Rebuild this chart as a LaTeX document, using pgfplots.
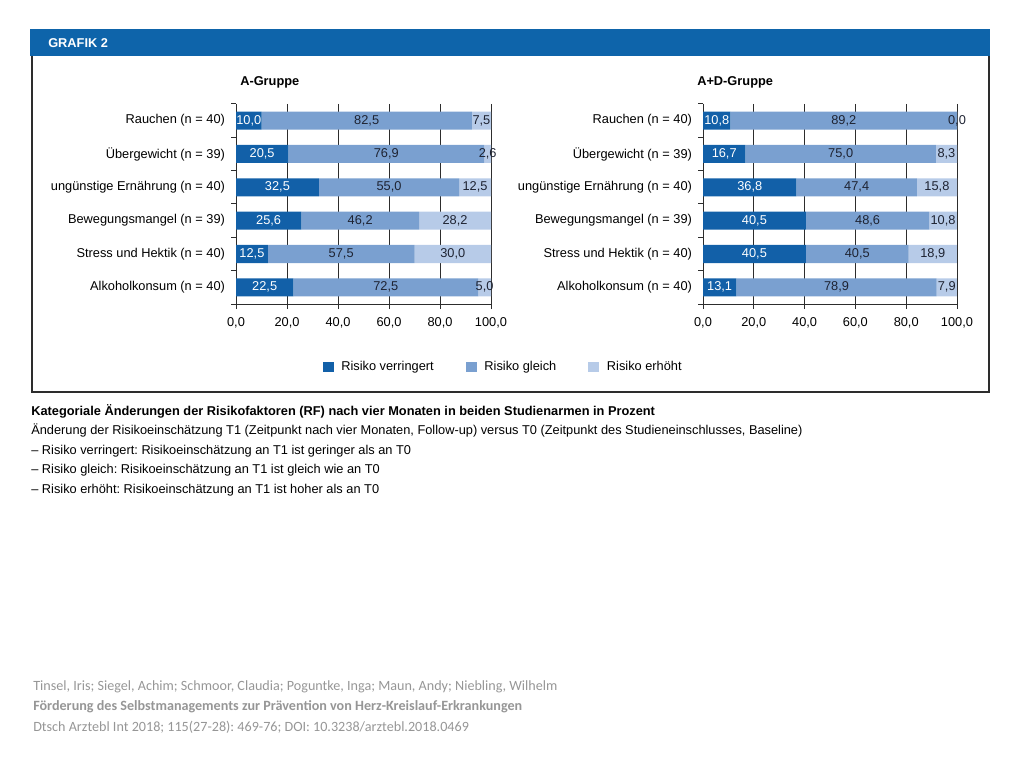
\documentclass[border=0pt]{standalone}
\usepackage{pgfplots}
\pgfplotsset{compat=1.18}
\usepackage{pgfplotstable}
\usepackage{fontspec}
\setmainfont{Liberation Sans}
\newfontfamily\footfont{Carlito}
\frenchspacing

\definecolor{dablue}{RGB}{14,100,170}
\definecolor{rdown}{RGB}{18,96,168}
\definecolor{rsame}{RGB}{122,160,208}
\definecolor{rup}{RGB}{183,203,232}
\definecolor{gridc}{RGB}{45,45,45}
\definecolor{labc}{RGB}{30,35,50}
\definecolor{footc}{RGB}{150,150,150}

\newcommand\lab{\fontsize{9.6}{11.6}\selectfont}

% v = Risiko verringert, g = gleich, e = erhoeht (Prozent)
\pgfplotstableread{
idx v g e
0 10.0 82.5 7.5
1 20.5 76.9 2.6
2 32.5 55.0 12.5
3 25.6 46.2 28.2
4 12.5 57.5 30.0
5 22.5 72.5 5.0
}\agruppe

% 0.001 statt 0.0, damit die Beschriftung "0,0" gesetzt wird
\pgfplotstableread{
idx v g e
0 10.8 89.2 0.001
1 16.7 75.0 8.3
2 36.8 47.4 15.8
3 40.5 48.6 10.8
4 40.5 40.5 18.9
5 13.1 78.9 7.9
}\adgruppe

\pgfplotsset{
  riskbar/.style={
    xbar stacked,
    scale only axis,
    height=150pt,
    xmin=0, xmax=100,
    ymin=-0.5, ymax=5.5,
    y dir=reverse,
    bar width=13.5pt,
    clip=false,
    axis x line*=bottom,
    axis y line*=left,
    axis line style={gridc, line width=0.75pt},
    tick align=outside,
    major tick length=3.75pt,
    tick style={gridc, line width=0.75pt},
    xtick={0,20,...,100},
    xmajorgrids,
    major grid style={gridc, line width=0.75pt},
    ytick={-0.5,0.5,...,5.5},
    yticklabels={,,,,,,,},
    extra y ticks={0,1,2,3,4,5},
    extra y tick labels={Rauchen (n = 40), Übergewicht (n = 39),
      ungünstige Ernährung (n = 40), Bewegungsmangel (n = 39),
      Stress und Hektik (n = 40), Alkoholkonsum (n = 40)},
    extra y tick style={tick style={draw=none}},
    y tick label style={font=\lab, xshift=-1pt},
    x tick label style={font=\lab, yshift=-3pt},
    /pgf/number format/fixed,
    /pgf/number format/fixed zerofill,
    /pgf/number format/precision=1,
    /pgf/number format/use comma,
    /pgf/number format/assume math mode=true,
    every node near coord/.append style={font=\lab, text=labc},
  },
  seg/.style={
    draw=none,
    point meta=\thisrow{#1},
    nodes near coords,
    nodes near coords align={center},
    every node near coord/.append style={anchor=center, inner sep=0pt},
  },
}

\begin{document}
\begin{tikzpicture}[x=0.75pt, y=0.75pt]
\useasboundingbox (0,0) rectangle (1024,768);

% Kopfzeile und Rahmen
\fill[dablue] (30,739) rectangle (990,712);
\node[anchor=west, text=white, font=\lab\bfseries, inner sep=0pt] at (48,725) {GRAFIK 2};
\draw[gridc, line width=1.5pt] (31.5,712) -- (31.5,375.5) -- (989,375.5) -- (989,712);

\node[anchor=west, font=\lab\bfseries, inner sep=0pt] at (240,686) {A-Gruppe};
\node[anchor=west, font=\lab\bfseries, inner sep=0pt] at (697,686) {A+D-Gruppe};

\begin{axis}[riskbar, width=191.25pt, at={(177pt,348pt)}, anchor=south west,
  legend columns=3,
  legend style={at={(1.049,-0.315)}, anchor=center, draw=none, fill=none,
    font=\lab,
    /tikz/every odd column/.append style={column sep=3.75pt},
    /tikz/every even column/.append style={column sep=22pt}},
  legend image code/.code={\fill[#1] (0pt,-4.1pt) rectangle (8.25pt,4.1pt);},
]
\addplot[fill=rdown, seg=v, every node near coord/.append style={text=white}] table[x=v, y=idx] {\agruppe};
\addlegendentry{Risiko verringert}
\addplot[fill=rsame, seg=g] table[x=g, y=idx] {\agruppe};
\addlegendentry{Risiko gleich}
\addplot[fill=rup, seg=e] table[x=e, y=idx] {\agruppe};
\addlegendentry{Risiko erhöht}
\end{axis}

\begin{axis}[riskbar, width=190.5pt, at={(527.25pt,348pt)}, anchor=south west]
\addplot[fill=rdown, seg=v, every node near coord/.append style={text=white}] table[x=v, y=idx] {\adgruppe};
\addplot[fill=rsame, seg=g] table[x=g, y=idx] {\adgruppe};
\addplot[fill=rup, seg=e] table[x=e, y=idx] {\adgruppe};
\end{axis}

% Legende zur Grafik
\node[anchor=base west, inner sep=0pt, font=\lab\bfseries] at (31,352.5)
  {Kategoriale Änderungen der Risikofaktoren (RF) nach vier Monaten in beiden Studienarmen in Prozent};
\node[anchor=base west, inner sep=0pt, font=\lab] at (31,333.5)
  {Änderung der Risikoeinschätzung T1 (Zeitpunkt nach vier Monaten, Follow-up) versus T0 (Zeitpunkt des Studieneinschlusses, Baseline)};
\node[anchor=base west, inner sep=0pt, font=\lab] at (31,313.5)
  {– Risiko verringert: Risikoeinschätzung an T1 ist geringer als an T0};
\node[anchor=base west, inner sep=0pt, font=\lab] at (31,294.5)
  {– Risiko gleich: Risikoeinschätzung an T1 ist gleich wie an T0};
\node[anchor=base west, inner sep=0pt, font=\lab] at (31,274.5)
  {– Risiko erhöht: Risikoeinschätzung an T1 ist hoher als an T0};

% Quelle
\node[anchor=base west, inner sep=0pt, text=footc, font=\footfont\fontsize{10.6}{12}\selectfont] at (33,78)
  {Tinsel, Iris; Siegel, Achim; Schmoor, Claudia; Poguntke, Inga; Maun, Andy; Niebling, Wilhelm};
\node[anchor=base west, inner sep=0pt, text=footc, font=\footfont\bfseries\fontsize{10.6}{12}\selectfont] at (33,58)
  {Förderung des Selbstmanagements zur Prävention von Herz-Kreislauf-Erkrankungen};
\node[anchor=base west, inner sep=0pt, text=footc, font=\footfont\fontsize{10.6}{12}\selectfont] at (33,37)
  {Dtsch Arztebl Int 2018; 115(27-28): 469-76; DOI: 10.3238/arztebl.2018.0469};
\end{tikzpicture}
\end{document}
